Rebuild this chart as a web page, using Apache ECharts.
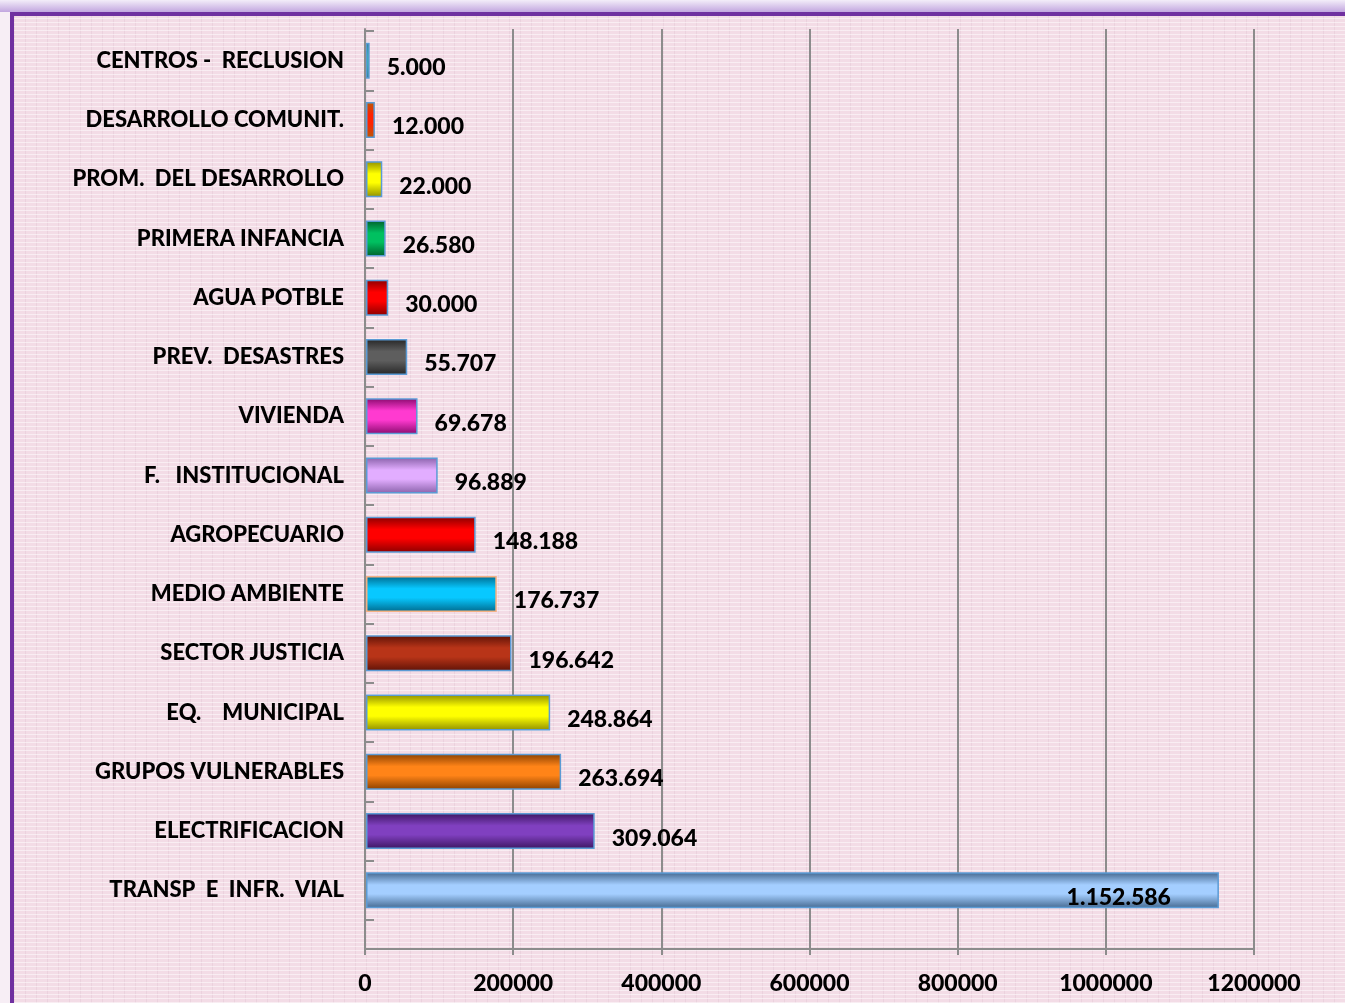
<!DOCTYPE html>
<html>
<head>
<meta charset="utf-8">
<script src="https://cdn.jsdelivr.net/npm/echarts@6/dist/echarts.min.js"></script>
<style>
  html, body { margin: 0; padding: 0; background: #f7eef5; }
  #strip { position: absolute; left: 0; top: 0; width: 1345px; height: 12px;
    background: linear-gradient(#f3edf9, #c2a6df); }
  #panel { position: absolute; left: 10px; top: 12px; width: 1331px; height: 987px;
    border-left: 4px solid #7030a0; border-top: 4px solid #7030a0;
    background-color: #f3dce6;
    background-image:
      repeating-linear-gradient(0deg, rgba(255,255,255,0.5) 0 1px, transparent 1px 4px),
      repeating-linear-gradient(90deg, rgba(220,190,205,0.35) 0 1px, transparent 1px 11px); }
  #myChart { position: absolute; left: 0; top: 0; width: 1345px; height: 1003px; }
</style>
</head>
<body>
<div id="strip"></div>
<div id="panel"></div>
<div id="myChart"></div>
<script>
// datos (de arriba hacia abajo)
var categorias = ['CENTROS -  RECLUSION', 'DESARROLLO COMUNIT.', 'PROM.  DEL DESARROLLO', 'PRIMERA INFANCIA',
  'AGUA POTBLE', 'PREV.  DESASTRES', 'VIVIENDA', 'F.   INSTITUCIONAL', 'AGROPECUARIO', 'MEDIO AMBIENTE',
  'SECTOR JUSTICIA', 'EQ.    MUNICIPAL', 'GRUPOS VULNERABLES', 'ELECTRIFICACION', 'TRANSP  E  INFR.  VIAL'];
var valores = [5000, 12000, 22000, 26580, 30000, 55707, 69678, 96889, 148188, 176737, 196642, 248864, 263694, 309064, 1152586];
var ejeTicks = [0, 200000, 400000, 600000, 800000, 1000000, 1200000];

// colores: [oscuro, claro]
var colores = [
  ['#0f6e6e', '#22b5a0'], ['#b85a08', '#ff2200'], ['#8f8f00', '#ffff00'], ['#00602c', '#00c060'],
  ['#8a0000', '#ff0000'], ['#262626', '#5e5e5e'], ['#8a0a6e', '#ff3ad0'], ['#8a62aa', '#e2adff'],
  ['#8a0000', '#ff0000'], ['#006a8e', '#08c8ff'], ['#5e1206', '#b83418'], ['#8f8f00', '#ffff00'],
  ['#8a4000', '#ff8418'], ['#3c1660', '#8040c0'], ['#44688f', '#a4ceff']
];

function miles(v) {
  return String(v).replace(/\B(?=(\d{3})+(?!\d))/g, '.');
}

var gris = '#8c8c8c';
var fuente = 'Lato';
var myChart = echarts.init(document.getElementById('myChart'));

var datos = [];
for (var i = 0; i < valores.length; i++) {
  var c = colores[i];
  var item = {
    value: valores[i],
    itemStyle: {
      color: new echarts.graphic.LinearGradient(0, 0, 0, 1, [
        {offset: 0, color: c[0]}, {offset: 0.35, color: c[1]},
        {offset: 0.6, color: c[1]}, {offset: 1, color: c[0]}
      ]),
      borderColor: i == 9 ? '#f4b183' : '#5b9bd5',
      borderWidth: 1.5
    }
  };
  if (i == valores.length - 1) {
    item.label = {position: 'insideRight', distance: 48};
  }
  datos.push(item);
}

myChart.setOption({
  animation: false,
  backgroundColor: 'transparent',
  grid: [
    {left: 366, right: 91, top: 31, bottom: 83},
    {left: 365, right: 91, top: 29, bottom: 54}
  ],
  xAxis: [
    {gridIndex: 0, type: 'value', min: 0, max: 1200000, interval: 200000, show: false},
    {
      gridIndex: 1, type: 'value', min: ejeTicks[0], max: ejeTicks[ejeTicks.length - 1], interval: 200000,
      axisLine: {show: true, lineStyle: {color: gris, width: 2}},
      axisTick: {show: true, length: 6, lineStyle: {color: gris, width: 2}},
      splitLine: {show: true, lineStyle: {color: gris, width: 2}},
      axisLabel: {color: '#000', fontFamily: fuente, fontWeight: 900, fontSize: 23, margin: 23,
        formatter: function (v) { return String(v); }}
    }
  ],
  yAxis: [
    {
      gridIndex: 0, type: 'category', inverse: true, data: categorias,
      axisLine: {show: false},
      axisTick: {show: true, inside: true, length: 8, lineStyle: {color: gris, width: 2}},
      axisLabel: {color: '#000', fontFamily: fuente, fontWeight: 900, fontSize: 22, margin: 22,
        padding: [13, 0, 0, 0]}
    },
    {
      gridIndex: 1, type: 'value', min: 0, max: 1,
      axisLine: {show: true, lineStyle: {color: gris, width: 2}},
      axisTick: {show: false}, axisLabel: {show: false}, splitLine: {show: false}
    }
  ],
  series: [{
    type: 'bar',
    xAxisIndex: 0,
    yAxisIndex: 0,
    barWidth: 36,
    data: datos,
    label: {
      show: true, position: 'right', distance: 17, offset: [0, 7],
      color: '#000', fontFamily: fuente, fontWeight: 900, fontSize: 23,
      formatter: function (p) { return miles(p.value); }
    }
  }]
});
</script>
</body>
</html>
